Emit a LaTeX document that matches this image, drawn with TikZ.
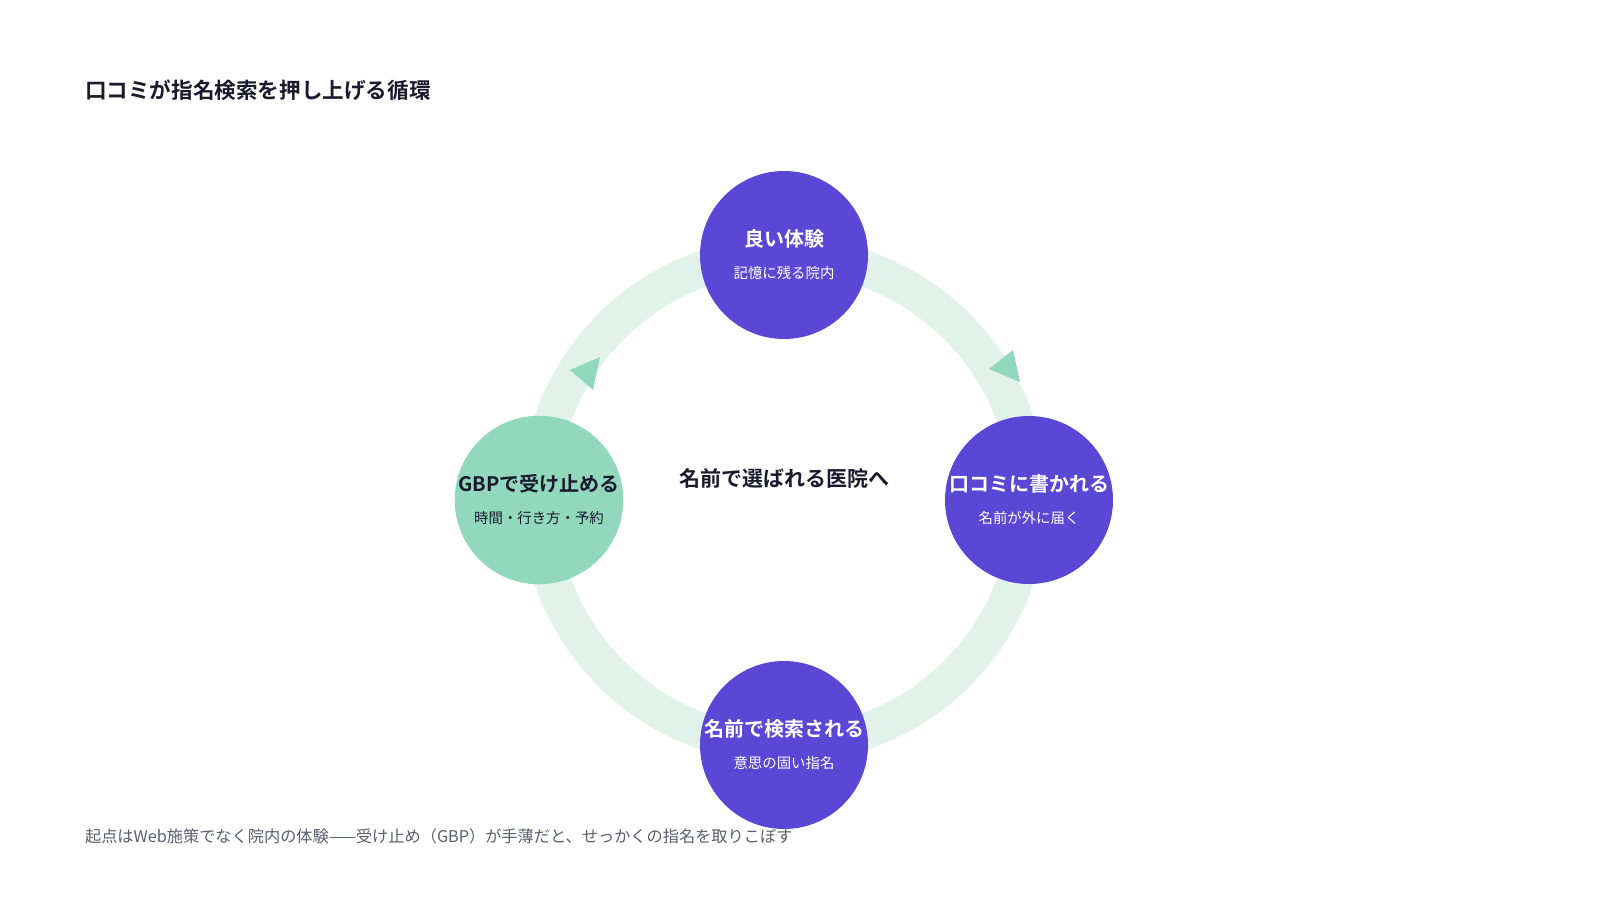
\documentclass[tikz,border=0pt]{standalone}
\usepackage{fontspec}
\setmainfont{Noto Sans CJK JP}[BoldFont={Noto Sans CJK JP Bold}]
\definecolor{ink}{HTML}{1A1A2E}
\definecolor{violet}{HTML}{5B47D6}
\definecolor{mint}{HTML}{92D8BC}
\definecolor{ring}{HTML}{E1F2EB}
\definecolor{note}{HTML}{5A5E6A}
\newcommand{\stage}[2]{{\fontsize{10}{11}\bfseries #1}\\[4pt]{\fontsize{7.2}{8}\selectfont #2}}
\begin{document}
\begin{tikzpicture}[
      x=0.5pt,y=-0.5pt,
      stage/.style={circle,minimum size=84pt,inner sep=0pt,align=center,text=white,fill=violet},
      pin/.style={fill=mint}
    ]
    \useasboundingbox (0,0) rectangle (1600,900);
    % Draw the loop.
    \coordinate (hub) at (784,500);
    \draw[ring,line width=18pt] (hub) circle[radius=122.5pt];
    \fill[pin] (570,370) -- (600,357) -- (593,390) -- cycle;
    \fill[pin] (1013,350) -- (989,369) -- (1020,382) -- cycle;
    % Draw the stages.
    \node[stage] (exp) at (784,255) {\stage{良い体験}{記憶に残る院内}};
    \node[stage] (rev) at (1029,500) {\stage{口コミに書かれる}{名前が外に届く}};
    \node[stage] (srch) at (784,745) {\stage{名前で検索される}{意思の固い指名}};
    \node[stage,fill=mint,text=ink] (gbp) at (539,500) {\stage{GBPで受け止める}{時間・行き方・予約}};
    % Draw the texts.
    \node[font=\fontsize{10.5}{12}\bfseries,text=ink] (goal) at (784,478) {名前で選ばれる医院へ};
    \node[anchor=west,font=\fontsize{10.8}{12}\bfseries,text=ink] (title) at (78,90) {口コミが指名検索を押し上げる循環};
    \node[anchor=west,font=\fontsize{8.1}{9}\selectfont,text=note] (foot) at (78,836) {起点はWeb施策でなく院内の体験——受け止め（GBP）が手薄だと、せっかくの指名を取りこぼす};
\end{tikzpicture}
\end{document}
